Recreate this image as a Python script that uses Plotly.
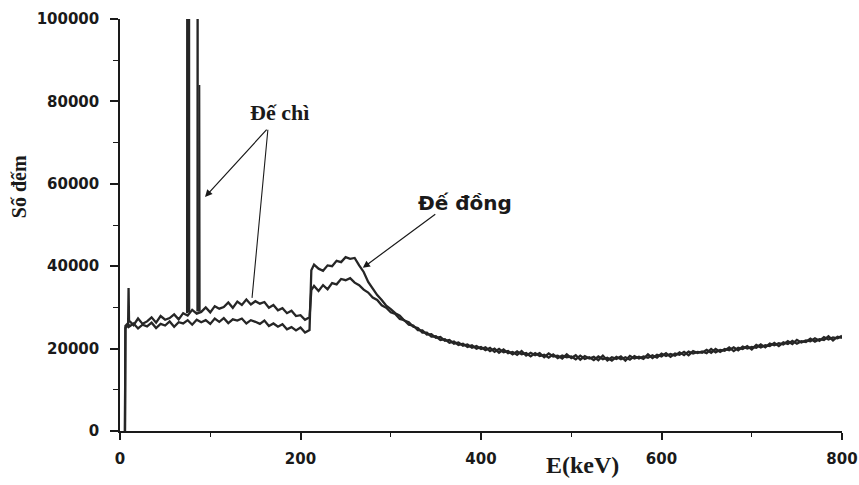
import plotly.graph_objects as go

# Energy grid (keV)
energy = [5.5, 6, 9, 9.5] + list(range(10, 211, 5)) + [212] + list(range(215, 801, 5))

# Counts (thousands) - "Đế chì" (lead base)
counts_lead_k = [
    0, 25.5, 26.2, 34.7,
    26.8, 25.7, 27.3, 26.0, 26.6, 27.6, 26.3, 27.9, 27.0, 27.4,
    28.3, 27.1, 28.6, 28.0, 29.4, 28.5, 28.9, 30.0, 28.8, 30.3,
    29.7, 30.1, 31.2, 29.9, 31.4, 30.6, 31.9, 30.7, 31.5, 30.9,
    31.3, 29.9, 30.6, 29.3, 29.8, 28.6, 29.2, 27.9, 28.1, 27.0,
    27.6,
    34.2,
    35.2, 34.0, 35.4, 34.4, 35.9, 35.6, 36.9, 36.6, 37.1, 36.0,
    35.4, 34.3, 33.6, 32.4, 31.8, 30.5, 29.9, 28.8, 28.4, 27.2,
    26.9, 25.8, 25.6, 24.5, 24.4, 23.4, 23.5, 22.6, 22.8, 21.9,
    22.1, 21.2, 21.5, 20.7, 21.0, 20.2, 20.6, 19.9,
    20.3, 19.4, 20.0, 19.0, 19.8, 18.9, 19.2, 18.5, 19.4, 18.3,
    19.0, 18.4, 18.9, 17.9, 18.8, 18.1, 18.3, 17.6, 18.6, 17.7,
    18.4, 17.3, 18.2, 17.6, 18.0, 17.2, 18.3, 17.1, 17.9, 17.5,
    18.1, 17.1, 18.2, 17.6, 18.0, 17.5, 18.6, 17.7, 18.5, 18.1,
    18.9, 18.0, 18.8, 18.5, 19.2, 18.4, 19.4, 18.9, 19.3, 18.9,
    19.9, 19.1, 19.7, 19.5, 20.3, 19.4, 20.2, 19.9, 20.6, 19.8,
    20.9, 20.3, 20.8, 20.6, 21.4, 20.6, 21.5, 21.1, 21.9, 21.2,
    21.8, 21.6, 22.4, 21.7, 22.3, 22.1, 23.0, 22.0, 22.9, 22.6,
]

# Counts (thousands) - "Đế đồng" (copper base)
counts_copper_k = [
    0, 25.0, 25.5, 26.0,
    25.3, 26.1, 24.9, 25.8, 25.4, 26.3, 25.0, 26.0, 25.6, 26.6,
    25.3, 26.4, 26.1, 26.9, 25.8, 27.0, 26.4, 26.9, 26.0, 27.3,
    26.5, 27.4, 26.2, 27.1, 26.8, 27.3, 26.1, 26.9, 26.5, 26.0,
    26.8, 25.5, 26.1, 25.3, 25.9, 24.7, 25.2, 24.4, 25.1, 23.9,
    24.5,
    39.0,
    40.4, 39.4, 38.9, 40.2, 40.0, 41.3, 41.0, 42.2, 41.8, 42.0,
    40.2, 38.6, 36.2, 34.6, 33.0, 31.8, 30.4, 29.6, 28.6, 28.0,
    26.8, 26.4, 25.3, 25.0, 23.9, 23.9, 22.9, 23.0, 22.1, 22.3,
    21.4, 21.7, 20.9, 21.2, 20.4, 20.8, 20.0, 20.4,
    19.6, 20.2, 19.2, 19.9, 19.1, 19.4, 18.6, 19.3, 18.6, 18.9,
    18.1, 18.9, 18.2, 18.5, 17.8, 18.6, 17.7, 18.3, 17.9, 18.1,
    17.4, 18.3, 17.5, 17.9, 17.2, 18.1, 17.4, 17.8, 17.1, 18.0,
    17.4, 17.9, 17.3, 18.2, 17.6, 18.1, 17.8, 18.4, 17.8, 18.8,
    18.2, 18.7, 18.3, 19.1, 18.4, 19.3, 18.8, 19.2, 19.0, 19.7,
    19.0, 19.9, 19.2, 19.9, 19.6, 20.3, 19.6, 20.5, 20.0, 20.4,
    20.2, 21.0, 20.3, 21.2, 20.8, 21.3, 21.0, 21.8, 21.1, 22.1,
    21.5, 22.0, 21.8, 22.5, 21.9, 22.8, 22.2, 22.7, 22.5, 23.1,
]

# X-ray peaks of lead (keV), base level and peak height (thousands)
peak_energy = [74.5, 76.5, 86.0, 88.0]
peak_base_k = [28.6, 28.8, 29.0, 29.0]
peak_top_k = [300, 300, 300, 84]

x_ticks = [0, 200, 400, 600, 800]
y_ticks = [0, 20000, 40000, 60000, 80000, 100000]

LINE = "#262626"

fig = go.Figure()
fig.add_trace(go.Scatter(x=energy, y=[v * 1000 for v in counts_copper_k], mode="lines",
                         line=dict(color=LINE, width=2.3), name="Đế đồng", showlegend=False))
fig.add_trace(go.Scatter(x=energy, y=[v * 1000 for v in counts_lead_k], mode="lines",
                         line=dict(color=LINE, width=2.3), name="Đế chì", showlegend=False))

px_, py_ = [], []
for e, b, t in zip(peak_energy, peak_base_k, peak_top_k):
    px_ += [e - 0.4, e, e + 0.4, None]
    py_ += [b * 1000, t * 1000, b * 1000, None]
fig.add_trace(go.Scatter(x=px_, y=py_, mode="lines", line=dict(color=LINE, width=1.8),
                         showlegend=False, connectgaps=False))

tickfont = dict(family="DejaVu Sans", size=15, color="#1a1a1a", weight="bold")

fig.update_layout(
    width=859, height=485,
    margin=dict(l=120, r=17, t=19, b=54),
    paper_bgcolor="white", plot_bgcolor="white",
    xaxis=dict(range=[0, 800], tickvals=x_ticks, ticktext=[str(v) for v in x_ticks],
               showline=True, linecolor="#1a1a1a", linewidth=1.5, showgrid=False, zeroline=False,
               ticks="outside", ticklen=7, tickwidth=1.5, tickcolor="#1a1a1a", automargin=False,
               minor=dict(ticks="outside", dtick=100, tick0=0, ticklen=4, tickwidth=1.2, tickcolor="#1a1a1a"),
               tickfont=tickfont, ticklabelstandoff=6),
    yaxis=dict(range=[0, 100000], tickvals=y_ticks, ticktext=[str(v) for v in y_ticks],
               showline=True, linecolor="#1a1a1a", linewidth=1.5, showgrid=False, zeroline=False,
               ticks="outside", ticklen=8, tickwidth=1.5, tickcolor="#1a1a1a", automargin=False,
               minor=dict(ticks="outside", dtick=10000, tick0=0, ticklen=5, tickwidth=1.2, tickcolor="#1a1a1a"),
               tickfont=tickfont, ticklabelstandoff=8),
)

serif = "Liberation Serif"
ann = []
# axis titles
ann.append(dict(text="Số đếm", xref="paper", yref="paper", x=-0.14, y=0.594, showarrow=False,
                xanchor="center", yanchor="middle",
                textangle=-90, font=dict(family=serif, size=20, color="#1a1a1a", weight="bold")))
ann.append(dict(text="E(keV)", xref="paper", yref="paper", x=0.641, y=-0.082, showarrow=False,
                xanchor="center", yanchor="middle",
                font=dict(family=serif, size=24, color="#1a1a1a", weight="bold")))
# labels
ann.append(dict(text="Đế chì", x=177, y=77200, showarrow=False,
                font=dict(family=serif, size=22, color="#1a1a1a", weight="bold")))
ann.append(dict(text="Đế đồng", x=382, y=55300, showarrow=False,
                font=dict(family="DejaVu Sans", size=20, color="#1a1a1a", weight="bold")))
# arrows
ann.append(dict(text="", x=94.2, y=56800, ax=164, ay=73500, axref="x", ayref="y",
                showarrow=True, arrowhead=2, arrowsize=1.2, arrowwidth=1.2, arrowcolor="#1a1a1a"))
ann.append(dict(text="", x=146.3, y=32300, ax=164, ay=73500, axref="x", ayref="y",
                showarrow=True, arrowhead=0, arrowwidth=1.1, arrowcolor="#1a1a1a"))
ann.append(dict(text="", x=269, y=39600, ax=351, ay=52900, axref="x", ayref="y",
                showarrow=True, arrowhead=2, arrowsize=1.2, arrowwidth=1.2, arrowcolor="#1a1a1a"))
fig.update_layout(annotations=ann)

fig.write_html("out.html", config={"displayModeBar": False},
               post_script="document.body.style.margin='0';")
